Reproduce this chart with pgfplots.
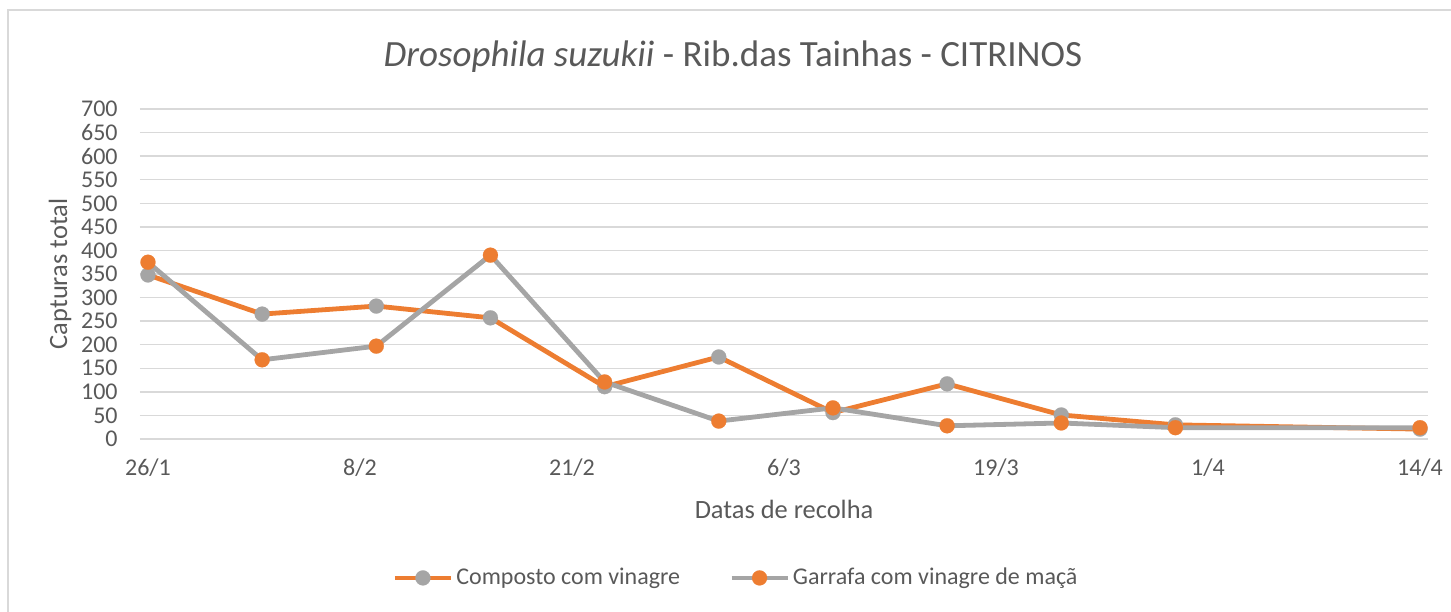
\documentclass[border=0pt]{standalone}
\usepackage{pgfplots}
\pgfplotsset{compat=1.18}
\usepackage{fontspec}
\setmainfont{Carlito}
\definecolor{cor}{HTML}{ED7D31}
\definecolor{cgr}{HTML}{A5A5A5}
\definecolor{ctext}{HTML}{595959}
\definecolor{cgrid}{HTML}{D9D9D9}
\begin{document}
\begin{tikzpicture}
\useasboundingbox (-70pt,-86pt) rectangle (655.5pt,219.5pt);
\draw[cgrid, line width=0.75pt] (-66pt,-100pt) rectangle (670pt,214.5pt);
\begin{axis}[
  at={(0,0)}, anchor=south west, scale only axis,
  width=644pt, height=165pt,
  xmin=-0.49, xmax=78.49, ymin=0, ymax=700,
  axis line style={draw=none},
  ytick={0,50,...,700},
  xtick={0,13,26,39,52,65,78},
  xticklabels={26/1,8/2,21/2,6/3,19/3,1/4,14/4},
  major tick length=0pt,
  ymajorgrids, grid style={cgrid, line width=0.75pt},
  /pgf/number format/assume math mode=true,
  tick label style={font=\fontsize{12}{14}\selectfont, text=ctext},
  yticklabel style={anchor=east, inner sep=0pt, xshift=-11pt},
  xticklabel style={anchor=base, inner sep=0pt, yshift=-18pt},
  xlabel={Datas de recolha},
  ylabel={Capturas total},
  label style={font=\fontsize{13.2}{16}\selectfont, text=ctext},
  xlabel style={at={(axis description cs:0.5,-0.2121)}, anchor=center},
  ylabel style={at={(axis description cs:-0.0621,0.5)}, anchor=center},
  legend columns=2,
  legend style={at={(axis description cs:0.4631,-0.421)}, anchor=center,
    draw=none, fill=none, font=\fontsize{12}{14}\selectfont, text=ctext,
    /tikz/every even column/.append style={column sep=23pt},
    nodes={inner xsep=1.5pt},
    inner sep=0pt},
  legend image code/.code={\draw[mark repeat=2,mark phase=2] plot coordinates {(0pt,0pt) (14pt,0pt) (28pt,0pt)};},
]
\addplot[cor, line width=2.4pt, mark=*, mark size=3.75pt, mark options={solid, cgr, line width=0.1pt}] coordinates {
(0,348) (7,265) (14,282) (21,257) (28,111) (35,174) (42,56) (49,117) (56,51) (63,30) (78,21)
};
\addlegendentry{Composto com vinagre}
\addplot[cgr, line width=2.4pt, mark=*, mark size=3.75pt, mark options={solid, cor, line width=0.1pt}] coordinates {
(0,375) (7,168) (14,197) (21,390) (28,121) (35,38) (42,66) (49,28) (56,34) (63,24) (78,24)
};
\addlegendentry{Garrafa com vinagre de maçã}
\end{axis}
\node[text=ctext, font=\fontsize{18.5}{22}\selectfont] at (296.5pt,191pt) {\textit{Drosophila suzukii} - Rib.das Tainhas - CITRINOS};
\end{tikzpicture}
\end{document}
